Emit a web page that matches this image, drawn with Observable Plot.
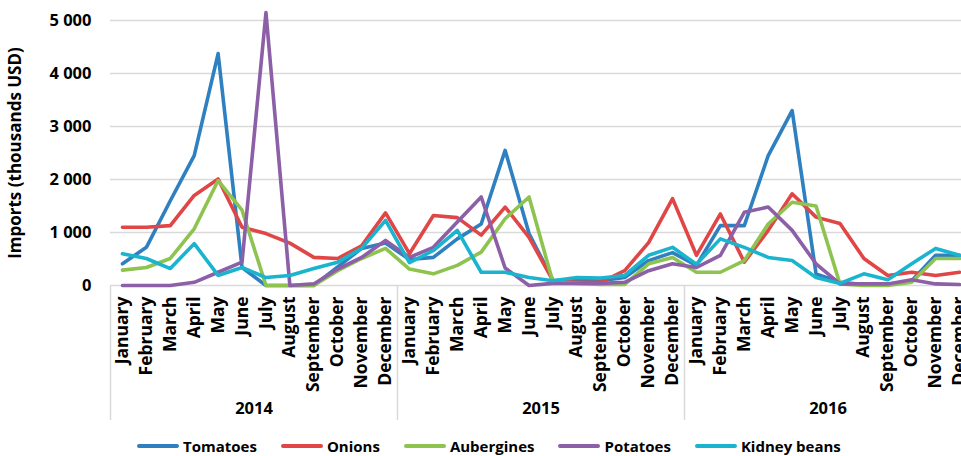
<!DOCTYPE html>
<html>
<head>
<meta charset="utf-8">
<script src="https://cdn.jsdelivr.net/npm/d3@7"></script>
<script src="https://cdn.jsdelivr.net/npm/@observablehq/plot@0.6"></script>
<style>
html, body { margin: 0; padding: 0; overflow: hidden; background: #fff; }
body { width: 961px; height: 456px; font-family: "Open Sans", sans-serif; }
#chart svg { max-width: none !important; display: block; }
#legend { display: flex; align-items: center; padding-left: 137px; gap: 24px; font-weight: 700; font-size: 15px; line-height: 20px; color: #000; height: 20px; margin-top: 10px; }
#legend .item { display: flex; align-items: center; gap: 4px; }
#legend .sw { width: 42px; height: 4px; border-radius: 2px; }
</style>
</head>
<body>
<div id="chart"></div>
<div id="legend"></div>
<script>
const months = ["January","February","March","April","May","June","July","August","September","October","November","December"];
const years = [2014, 2015, 2016];
const seriesNames = ["Tomatoes","Onions","Aubergines","Potatoes","Kidney beans"];
const colors = ["#2e80c0","#e04646","#8ec350","#8c5fa6","#1ab4cf"];
const yTicks = [0, 1000, 2000, 3000, 4000, 5000];

const tomatoes   = [410,720,1600,2450,4375,340,0,0,0,350,700,800, 490,530,880,1160,2550,980,100,90,90,150,470,620, 380,1130,1130,2450,3300,220,60,20,20,90,570,570];
const onions     = [1100,1100,1130,1700,2010,1100,980,800,530,510,750,1370, 600,1320,1280,950,1480,910,90,60,60,280,810,1640, 570,1350,440,1040,1730,1290,1170,510,190,250,190,250];
const aubergines = [290,340,510,1070,1980,1420,0,0,0,280,510,700, 310,220,380,630,1260,1670,60,40,20,20,410,530, 250,250,470,1160,1570,1500,30,0,0,60,510,510];
const potatoes   = [0,0,0,60,250,440,5150,0,30,310,530,850, 530,720,1200,1670,330,0,40,40,40,60,280,410, 340,570,1380,1480,1040,410,30,30,30,110,30,20];
const kidney     = [600,510,320,790,190,340,150,190,320,440,700,1230, 430,660,1040,250,250,150,90,150,140,190,570,720, 400,880,720,530,470,150,40,220,110,410,700,570];

const seriesValues = [tomatoes, onions, aubergines, potatoes, kidney];
const data = [];
seriesNames.forEach((name, s) => {
  seriesValues[s].forEach((v, i) => data.push({series: name, i, value: v}));
});
const idx = d3.range(years.length * months.length);
const separators = d3.range(years.length + 1).map(k => k * 12 - 0.5);
const yearLabels = years.map((y, k) => ({year: String(y), x: k * 12 + 5.5}));

const fmt = v => d3.format(",")(v).replace(/,/g, " ");

const chart = Plot.plot({
  width: 980,
  height: 426,
  marginLeft: 110,
  marginRight: 9,
  marginTop: 20,
  marginBottom: 141,
  style: {fontFamily: "Open Sans, sans-serif", fontSize: "15px", fontWeight: 700, color: "#000", overflow: "visible", maxWidth: "none"},
  x: {type: "linear", domain: [-0.5, 35.5]},
  y: {domain: [0, 5000]},
  color: {domain: seriesNames, range: colors},
  marks: [
    Plot.ruleY(yTicks, {stroke: "#d9d9d9", strokeWidth: 1.5}),
    Plot.ruleX(separators, {stroke: "#d9d9d9", strokeWidth: 1.5, insetTop: 265, insetBottom: -135}),
    Plot.axisY({ticks: yTicks, tickSize: 0, tickPadding: 19, tickFormat: fmt, fontSize: 16.5, fontWeight: 700,
      label: "Imports (thousands USD)", labelAnchor: "center", labelArrow: "none", labelOffset: 102}),
    Plot.axisX({ticks: idx, tickSize: 0, tickPadding: 11, tickRotate: -90, tickFormat: i => months[i % 12], fontSize: 17.5, fontWeight: 700, label: null}),
    Plot.text(yearLabels, {x: "x", y: () => 0, text: "year", dy: 123, fontSize: 16.5, fontWeight: 700, fill: "#000"}),
    Plot.line(data, {x: "i", y: "value", z: "series", stroke: "series", strokeWidth: 3.6, strokeLinejoin: "round", strokeLinecap: "round"})
  ]
});
chart.querySelectorAll("g[aria-label='y-axis label'] text, g[aria-label='y-axis label']").forEach(el => el.setAttribute("font-size", "17"));
document.getElementById("chart").appendChild(chart);

const legend = document.getElementById("legend");
seriesNames.forEach((name, s) => {
  const it = document.createElement("div");
  it.className = "item";
  const sw = document.createElement("div");
  sw.className = "sw";
  sw.style.background = colors[s];
  const t = document.createElement("span");
  t.textContent = name;
  it.appendChild(sw); it.appendChild(t);
  legend.appendChild(it);
});
</script>
</body>
</html>
